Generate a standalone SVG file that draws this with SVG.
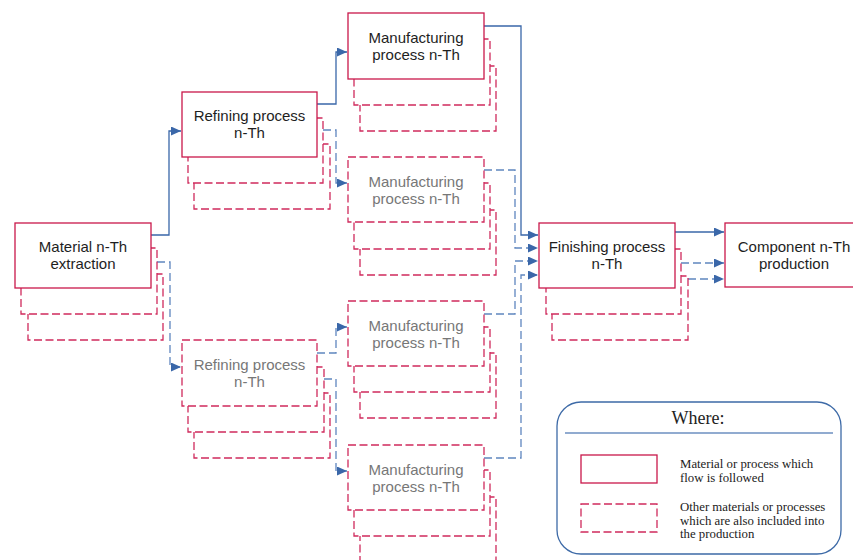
<svg xmlns="http://www.w3.org/2000/svg" width="853" height="560" viewBox="0 0 853 560">
<defs>
<style>
.main{fill:#fff;stroke:#c9184a;stroke-width:1.3}
.dash{fill:#fff;stroke:#cf2a5c;stroke-width:1.3;stroke-dasharray:8 3.5}
.t{font-family:"Liberation Sans",Arial,sans-serif;font-size:15px;fill:#1e1e1e;text-anchor:middle}
.g{fill:#777}
.c{fill:none;stroke:#3a67a9;stroke-width:1.3;marker-end:url(#ah)}
.cd{fill:none;stroke:#5f86bf;stroke-width:1.3;stroke-dasharray:8 4;marker-end:url(#ah)}
.lt{font-family:"Liberation Serif","Times New Roman",serif;font-size:12.8px;fill:#222}
</style>
<marker id="ah" markerUnits="userSpaceOnUse" markerWidth="11" markerHeight="10" refX="10" refY="4.5" orient="auto">
<path d="M0,0 L10,4.5 L0,9 z" fill="#3a67a9"/>
</marker>
</defs>
<rect width="853" height="560" fill="#fff"/>

<g id="connectors">
<path class="c" d="M151,235 H169 V131 H181"/>
<path class="cd" d="M157,262 H170 V367 H181"/>
<path class="c" d="M317,104 H336 V52 H347"/>
<path class="cd" d="M323,130 H336 V183 H347"/>
<path class="cd" d="M317,353 H336 V327 H347"/>
<path class="cd" d="M324,379 H336 V471 H347"/>
<path class="c" d="M484,26 H521 V235 H538"/>
<path class="cd" d="M484,170 H515 V248 H538"/>
<path class="cd" d="M484,314 H515 V261 H538"/>
<path class="cd" d="M484,458 H521 V275 H538"/>
<path class="c" d="M675,232 H724"/>
<path class="cd" d="M681,263 H724"/>
<path class="cd" d="M688,279 H724"/>
</g>

<g id="material">
<rect class="dash" x="28" y="274" width="135" height="66"/>
<rect class="dash" x="21" y="248" width="136" height="66"/>
<rect class="main" x="15" y="223" width="136" height="65"/>
<text class="t" x="83" y="252">Material n-Th</text>
<text class="t" x="83" y="269">extraction</text>
</g>

<g id="refining">
<rect class="dash" x="194" y="144" width="136" height="65"/>
<rect class="dash" x="188" y="118" width="135" height="65"/>
<rect class="main" x="182" y="92" width="135" height="65"/>
<text class="t" x="249.5" y="121">Refining process</text>
<text class="t" x="249.5" y="138">n-Th</text>
</g>

<g id="refining-other">
<rect class="dash" x="194" y="393" width="136" height="65"/>
<rect class="dash" x="188" y="367" width="136" height="65"/>
<rect class="dash" x="182" y="340" width="135" height="66"/>
<text class="t g" x="249.5" y="370">Refining process</text>
<text class="t g" x="249.5" y="387">n-Th</text>
</g>

<g id="manufacturing">
<rect class="dash" x="360" y="66" width="136" height="65"/>
<rect class="dash" x="354" y="39" width="136" height="66"/>
<rect class="main" x="348" y="13" width="136" height="66"/>
<text class="t" x="416" y="43">Manufacturing</text>
<text class="t" x="416" y="60">process n-Th</text>
</g>

<g id="manufacturing-other-1">
<rect class="dash" x="360" y="210" width="136" height="65"/>
<rect class="dash" x="354" y="183" width="136" height="66"/>
<rect class="dash" x="348" y="157" width="136" height="65"/>
<text class="t g" x="416" y="187">Manufacturing</text>
<text class="t g" x="416" y="204">process n-Th</text>
</g>

<g id="manufacturing-other-2">
<rect class="dash" x="360" y="353" width="136" height="65"/>
<rect class="dash" x="354" y="327" width="136" height="65"/>
<rect class="dash" x="348" y="301" width="136" height="65"/>
<text class="t g" x="416" y="331">Manufacturing</text>
<text class="t g" x="416" y="348">process n-Th</text>
</g>

<g id="manufacturing-other-3">
<rect class="dash" x="360" y="497" width="136" height="70"/>
<rect class="dash" x="354" y="470" width="136" height="66"/>
<rect class="dash" x="348" y="445" width="136" height="65"/>
<text class="t g" x="416" y="475">Manufacturing</text>
<text class="t g" x="416" y="492">process n-Th</text>
</g>

<g id="finishing">
<rect class="dash" x="552" y="276" width="136" height="64"/>
<rect class="dash" x="546" y="249" width="135" height="65"/>
<rect class="main" x="539" y="223" width="136" height="65"/>
<text class="t" x="607" y="252">Finishing process</text>
<text class="t" x="607" y="269">n-Th</text>
</g>

<g id="component">
<rect class="main" x="725" y="223" width="136" height="64"/>
<text class="t" x="794" y="252">Component n-Th</text>
<text class="t" x="794" y="269">production</text>
</g>

<g id="legend">
<rect x="557" y="402" width="284" height="152" rx="24" ry="24" fill="#fff" stroke="#3d6aa7" stroke-width="1.3"/>
<text x="698" y="424" font-family="Liberation Serif,'Times New Roman',serif" font-size="18" fill="#222" text-anchor="middle">Where:</text>
<line x1="565" y1="433" x2="833" y2="433" stroke="#6d8fc0" stroke-width="1.3"/>
<rect class="main" x="581" y="455" width="76" height="28"/>
<rect class="dash" x="581" y="504" width="76" height="28"/>
<text class="lt" x="680" y="468">Material or process which</text>
<text class="lt" x="680" y="482">flow is followed</text>
<text class="lt" x="680" y="511">Other materials or processes</text>
<text class="lt" x="680" y="525">which are also included into</text>
<text class="lt" x="680" y="538">the production</text>
</g>
</svg>
